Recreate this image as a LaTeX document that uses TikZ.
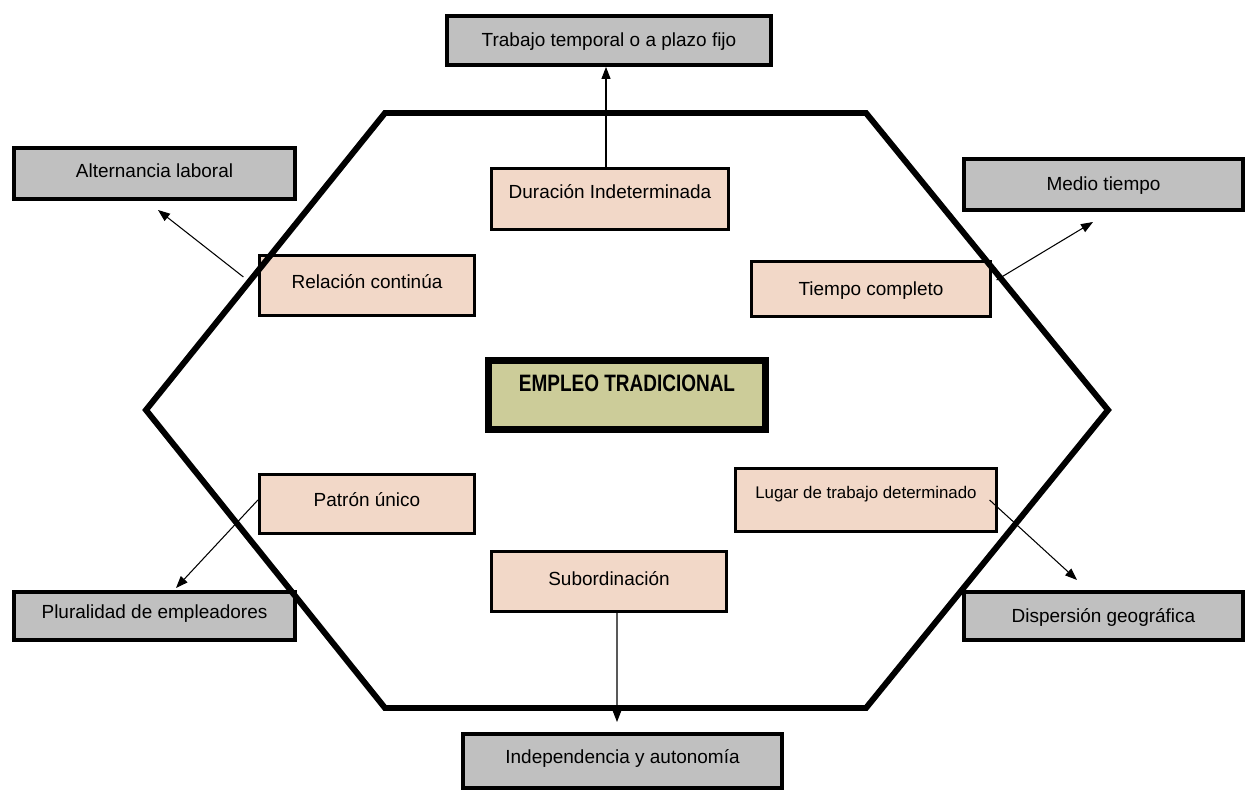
\documentclass[tikz,border=0pt]{standalone}
\usepackage{fontspec}
\setmainfont{Liberation Sans}
\newfontfamily\empfont{Liberation Sans}[FakeStretch=0.8]
\usetikzlibrary{arrows.meta}
\definecolor{cajagris}{RGB}{192,192,192}
\definecolor{cajarosa}{RGB}{242,216,200}
\definecolor{cajaoliva}{RGB}{204,204,153}

\begin{document}
\begin{tikzpicture}[
  font=\fontsize{10.8}{13}\selectfont,
  gris/.style={draw=black,fill=cajagris,line width=2.2pt,inner sep=0pt,text height=0.75em},
  rosa/.style={draw=black,fill=cajarosa,line width=1.8pt,inner sep=0pt,text height=0.75em},
  flecha/.style={-{Triangle[length=2.4mm,width=1.8mm]},line width=0.6pt}]
  \useasboundingbox (0,0) rectangle (24.94,15.84);

  % lo que rodea al empleo tradicional
  \foreach \nm/\x/\y/\w/\h/\dep/\txt in {
      trabajo/12.18/15.03/6.48/0.98/0.02/Trabajo temporal o a plazo fijo,
      alternancia/3.09/12.37/5.62/1.02/0.12/Alternancia laboral,
      medio/22.07/12.15/5.58/1.02/0.02/Medio tiempo,
      pluralidad/3.09/3.52/5.62/0.96/0.16/Pluralidad de empleadores,
      dispersion/22.07/3.52/5.58/0.96/0.02/Dispersión geográfica,
      independencia/12.45/0.62/6.38/1.08/0.16/Independencia y autonomía} {
    \node[gris,minimum width=\w cm,minimum height=\h cm,text depth=\dep cm] (\nm) at (\x,\y) {\txt};
  }

  % rasgos del empleo tradicional
  \foreach \nm/\x/\y/\w/\h/\dep/\txt in {
      duracion/12.20/11.86/4.74/1.22/0.28/Duración Indeterminada,
      relacion/7.34/10.13/4.30/1.20/0.14/Relación continúa,
      tiempo/17.42/10.06/4.78/1.10/0.02/Tiempo completo,
      patron/7.34/5.76/4.30/1.18/0.16/Patrón único,
      subordinacion/12.18/4.21/4.70/1.20/0.12/Subordinación} {
    \node[rosa,minimum width=\w cm,minimum height=\h cm,text depth=\dep cm] (\nm) at (\x,\y) {\txt};
  }
  \node[rosa,minimum width=5.22cm,minimum height=1.26cm,text depth=0.32cm,
    font=\fontsize{9.6}{12}\selectfont] (lugar) at (17.32,5.84) {Lugar de trabajo determinado};

  \node[draw=black,fill=cajaoliva,line width=4pt,inner sep=0pt,minimum width=5.54cm,
    minimum height=1.38cm,text height=9.7pt,text depth=0.48cm,
    font=\empfont\bfseries\fontsize{13.5}{16}\selectfont] (empleo) at (12.54,7.94) {EMPLEO TRADICIONAL};

  \draw[line width=3.4pt] (7.70,13.58) -- (17.32,13.58) -- (22.16,7.64) -- (17.32,1.68)
    -- (7.70,1.68) -- (2.92,7.64) -- cycle;

  \coordinate (altTip) at (3.16,11.64);
  \coordinate (medTip) at (21.86,11.40);
  \coordinate (pluTip) at (3.52,4.08);
  \coordinate (disTip) at (21.54,4.24);
  \coordinate (indTip) at (12.34,1.40);
  \draw[flecha] ([xshift=-0.08cm]duracion.north) -- ([xshift=-0.08cm]duracion.north |- trabajo.south);
  \draw[flecha] ([shift={(-0.29,0.17)}]relacion.west) -- (altTip);
  \draw[flecha] ([shift={(0.09,0.18)}]tiempo.east) -- (medTip);
  \draw[flecha] ([yshift=0.08cm]patron.west) -- (pluTip);
  \draw[flecha] ([xshift=-0.17cm]lugar.east) -- (disTip);
  \draw[flecha] ([xshift=0.16cm]subordinacion.south) -- (indTip);
\end{tikzpicture}
\end{document}
